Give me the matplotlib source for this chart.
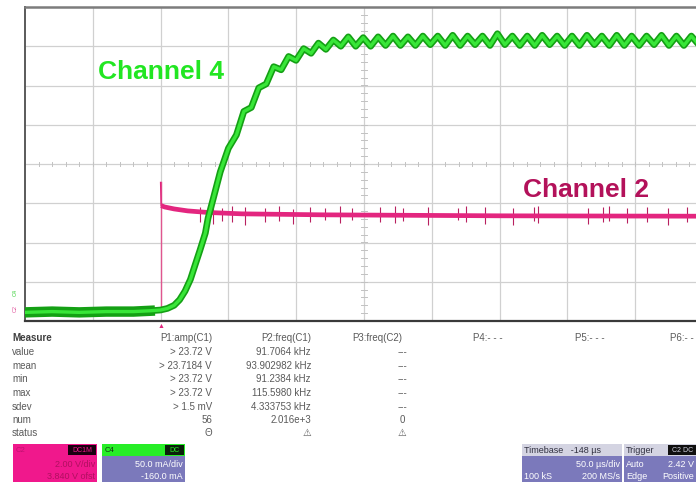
import numpy as np
import matplotlib
matplotlib.use('Agg')
import matplotlib.pyplot as plt
from matplotlib.patches import Rectangle

plt.rcParams['font.family'] = ['Liberation Sans', 'DejaVu Sans']

W, H = 696, 485

# Scope settings read from the channel / timebase boxes
CH4_SCALE = 50.0      # mA/div
CH4_OFFSET = -160.0   # mA
CH2_SCALE = 2.0       # V/div
CH2_ZERO = -3.72      # div, position of the C2 ground marker
T_DIV = 50.0          # us/div
T_LEFT = -100.0       # us at left edge of screen

# Channel 4 (current), time in us, value in mA
ch4_t = [-100, -80, -60, -40, -20, -8, 0, 5, 10, 14, 18, 22, 25, 29, 33, 35, 39, 44, 50,
         55.9, 61.4, 66.9, 72.4, 77.9, 83.4, 88.9, 94.4, 99.9, 105.5, 111.0, 116.4, 121.9,
         127.4, 132.9, 138.4,
         143.9, 149.4, 154.9, 160.4, 165.9, 171.4, 176.9, 182.4, 187.9, 193.4, 198.9, 204.4,
         209.9, 215.4, 220.9, 226.4, 231.9, 237.4, 242.9, 248.4, 253.9, 259.4, 264.9, 270.4,
         275.9, 281.4, 286.9, 292.4, 297.9, 303.4, 308.9, 314.4, 319.9, 325.4, 330.9, 336.4,
         341.9, 347.4, 352.9, 358.4, 363.9, 369.4, 374.9, 380.4, 385.9, 391.4, 396.9, 402.4]
ch4_ma = [-29, -28, -29, -28, -28, -27, -26, -24, -20, -13, -2, 13, 29, 50, 72, 91, 117, 150, 180,
          197, 227, 232, 257, 262, 284, 280, 297, 292, 307, 301, 314, 306,
          318, 310, 322,
          310, 321, 310, 322, 311, 323, 311, 322, 311, 323, 312, 323,
          311, 324, 311, 323, 312, 323, 311, 326, 312, 323, 311, 323,
          311, 324, 312, 323, 311, 323, 311, 324, 312, 323, 311, 324,
          311, 323, 311, 323, 312, 324, 311, 323, 311, 323, 312, 323]

# Channel 2 (enable), time in us, value in V
ch2_t = [0.4, 3, 10, 20, 35, 60, 120, 250, 400]
ch2_v = [5.32, 5.25, 5.15, 5.05, 4.97, 4.9, 4.85, 4.8, 4.78]
ch2_edge_t = 0.0
ch2_edge_top = 6.5

# short glitches on channel 2
spike_t = [29, 39, 45, 53, 62, 77, 87, 98, 110, 121, 132, 141, 162, 173, 179, 197, 219, 225,
           239, 260, 275, 278, 315, 326, 331, 344, 359, 374, 388]
spike_lo = [4.5, 4.4, 4.55, 4.5, 4.35, 4.5, 4.55, 4.4, 4.5, 4.6, 4.45, 4.6, 4.5, 4.45, 4.55,
            4.35, 4.6, 4.5, 4.4, 4.35, 4.55, 4.45, 4.4, 4.5, 4.55, 4.45, 4.5, 4.35, 4.5]
spike_hi = [5.25, 5.3, 5.2, 5.3, 5.25, 5.2, 5.3, 5.15, 5.25, 5.2, 5.3, 5.2, 5.25, 5.3, 5.2,
            5.25, 5.2, 5.3, 5.25, 5.2, 5.25, 5.3, 5.2, 5.25, 5.3, 5.2, 5.25, 5.2, 5.25]

# Measurement table
meas_rows = ['value', 'mean', 'min', 'max', 'sdev', 'num', 'status']
meas_headers = ['P1:amp(C1)', 'P2:freq(C1)', 'P3:freq(C2)', 'P4:- - -', 'P5:- - -', 'P6:- -']
p1_vals = ['> 23.72 V', '> 23.7184 V', '> 23.72 V', '> 23.72 V', '> 1.5 mV', '56', '\u0398']
p2_vals = ['91.7064 kHz', '93.902982 kHz', '91.2384 kHz', '115.5980 kHz', '4.333753 kHz',
           '2.016e+3', '\u26a0']
p3_vals = ['---', '---', '---', '---', '---', '0', '\u26a0']


def ch4_div(v):
    return (np.asarray(v) + CH4_OFFSET) / CH4_SCALE


def ch2_div(v):
    return np.asarray(v) / CH2_SCALE + CH2_ZERO


def fx(x):
    return x / W


def fy(y):
    return 1 - y / H


fig = plt.figure(figsize=(W / 100, H / 100), dpi=100)
fig.patch.set_facecolor('white')

# screen: 10 x 8 divisions, right part is cut by the picture
ax = fig.add_axes([fx(25), fy(322), 678 / W, 314 / H])
ax.set_xlim(T_LEFT, T_LEFT + 10 * T_DIV)
ax.set_ylim(-4, 4)
ax.set_xticks([])
ax.set_yticks([])
ax.spines['right'].set_visible(False)
ax.spines['top'].set_color('#7c7c7c')
ax.spines['top'].set_linewidth(1.8)
ax.spines['left'].set_color('#5a5a5a')
ax.spines['left'].set_linewidth(1.4)
ax.spines['bottom'].set_color('#3a3a3a')
ax.spines['bottom'].set_linewidth(1.6)

for k in range(1, 10):
    ax.axvline(T_LEFT + k * T_DIV, color='#d0d0d0', lw=0.9, zorder=0)
for k in range(-3, 4):
    ax.axhline(k, color='#d0d0d0', lw=0.9, zorder=0)

# minor ticks on the centre cross
tc = T_LEFT + 5 * T_DIV
for t in np.arange(T_LEFT, T_LEFT + 10 * T_DIV, T_DIV / 5):
    ax.plot([t, t], [-0.05, 0.05], color='#c2c2c2', lw=0.7, zorder=0)
for d in np.arange(-4, 4, 0.2):
    ax.plot([tc - 2.2, tc + 2.2], [d, d], color='#c2c2c2', lw=0.7, zorder=0)

# channel 2
ax.plot([T_LEFT, ch2_edge_t], ch2_div([0, 0]), color='#e0247c', lw=1, zorder=2)
ax.plot([ch2_edge_t, ch2_edge_t], ch2_div([0, ch2_edge_top]), color='#e0568f', lw=1, zorder=2)
ax.plot([ch2_edge_t, ch2_t[0]], ch2_div([ch2_edge_top, ch2_v[0]]), color='#e0247c', lw=1, zorder=2)
ax.vlines(spike_t, ch2_div(spike_lo), ch2_div(spike_hi), color='#b8205f', lw=0.8, zorder=2)
ax.plot(ch2_t, ch2_div(ch2_v), color='#e3267f', lw=3.4, solid_capstyle='butt', zorder=3)

# channel 4
ax.plot(ch4_t[:6], ch4_div(ch4_ma[:6]), color='#14a014', lw=7.5, zorder=4)
ax.plot(ch4_t, ch4_div(ch4_ma), color='#14a014', lw=4.8, solid_joinstyle='round', zorder=4)
ax.plot(ch4_t, ch4_div(ch4_ma), color='#38e638', lw=2.4, solid_joinstyle='round', zorder=5)

# trigger marker under the screen
fig.text(fx(161), fy(327), '\u25b2', color='#e0247c', fontsize=5, ha='center', va='center')

# ground markers at left edge
fig.text(fx(15), fy(292), 'C4', color='#3ad03a', fontsize=4, rotation=90, ha='center', va='center')
fig.text(fx(15), fy(309), 'C2', color='#e0509a', fontsize=4, rotation=90, ha='center', va='center')

# channel annotations
fig.text(fx(98), fy(72), 'Channel 4', color='#22e622', fontsize=19, fontweight='bold',
         ha='left', va='center')
fig.text(fx(523), fy(190), 'Channel 2', color='#b3115a', fontsize=19, fontweight='bold',
         ha='left', va='center')

# measurement table
tc_col = '#5a5a5a'
row_y = [352, 366, 379, 393, 407, 420, 433]
fs = 7
fig.text(fx(12), fy(338), 'Measure', color='#404040', fontsize=fs, fontweight='bold', va='center')
for i, name in enumerate(meas_rows):
    fig.text(fx(12), fy(row_y[i]), name, color=tc_col, fontsize=fs, va='center')
fig.text(fx(212), fy(338), meas_headers[0], color=tc_col, fontsize=fs, ha='right', va='center')
fig.text(fx(311), fy(338), meas_headers[1], color=tc_col, fontsize=fs, ha='right', va='center')
fig.text(fx(352), fy(338), meas_headers[2], color=tc_col, fontsize=fs, ha='left', va='center')
fig.text(fx(473), fy(338), meas_headers[3], color=tc_col, fontsize=fs, ha='left', va='center')
fig.text(fx(575), fy(338), meas_headers[4], color=tc_col, fontsize=fs, ha='left', va='center')
fig.text(fx(694), fy(338), meas_headers[5], color=tc_col, fontsize=fs, ha='right', va='center')
for i in range(len(meas_rows)):
    fig.text(fx(212), fy(row_y[i]), p1_vals[i], color=tc_col, fontsize=fs, ha='right', va='center')
    fig.text(fx(311), fy(row_y[i]), p2_vals[i], color=tc_col, fontsize=fs, ha='right', va='center')
    fig.text(fx(402), fy(row_y[i]), p3_vals[i], color=tc_col, fontsize=fs, ha='center', va='center')


def box(x, y, w, h, color):
    fig.add_artist(Rectangle((fx(x), fy(y + h)), w / W, h / H, transform=fig.transFigure,
                             facecolor=color, edgecolor='none'))


PURPLE = '#7b79bb'
# C2 box
box(13, 445, 84, 38, '#f0188c')
box(68, 446, 28, 10, '#1a0010')
fig.text(fx(82), fy(451), 'DC1M', color='#f0188c', fontsize=5, ha='center', va='center')
fig.text(fx(16), fy(451), 'C2', color='#c01070', fontsize=5.5, va='center')
fig.text(fx(95), fy(465), '2.00 V/div', color='#b01060', fontsize=6.5, ha='right', va='center')
fig.text(fx(95), fy(477), '3.840 V ofst', color='#b01060', fontsize=6.5, ha='right', va='center')

# C4 box
box(102, 445, 83, 12, '#27ee27')
box(102, 457, 83, 26, PURPLE)
box(165, 446, 19, 10, '#0a200a')
fig.text(fx(105), fy(451), 'C4', color='#103010', fontsize=5.5, va='center')
fig.text(fx(174), fy(451), 'DC', color='#27ee27', fontsize=5, ha='center', va='center')
fig.text(fx(183), fy(465), '50.0 mA/div', color='white', fontsize=6.5, ha='right', va='center')
fig.text(fx(183), fy(477), '-160.0 mA', color='white', fontsize=6.5, ha='right', va='center')

# Timebase box
box(522, 445, 100, 12, '#d4d4e2')
box(522, 457, 100, 26, PURPLE)
fig.text(fx(524), fy(451), 'Timebase   -148 \u00b5s', color='#303040', fontsize=6.5, va='center')
fig.text(fx(620), fy(465), '50.0 \u00b5s/div', color='white', fontsize=6.5, ha='right', va='center')
fig.text(fx(524), fy(477), '100 kS', color='white', fontsize=6.5, va='center')
fig.text(fx(620), fy(477), '200 MS/s', color='white', fontsize=6.5, ha='right', va='center')

# Trigger box
box(624, 445, 80, 12, '#d4d4e2')
box(624, 457, 80, 26, PURPLE)
box(668, 446, 30, 10, '#101010')
fig.text(fx(626), fy(451), 'Trigger', color='#303040', fontsize=6.5, va='center')
fig.text(fx(683), fy(451), 'C2 DC', color='#d4d4e2', fontsize=5, ha='center', va='center')
fig.text(fx(626), fy(465), 'Auto', color='white', fontsize=6.5, va='center')
fig.text(fx(694), fy(465), '2.42 V', color='white', fontsize=6.5, ha='right', va='center')
fig.text(fx(626), fy(477), 'Edge', color='white', fontsize=6.5, va='center')
fig.text(fx(694), fy(477), 'Positive', color='white', fontsize=6.5, ha='right', va='center')

fig.savefig('out.png', dpi=100, facecolor='white')
